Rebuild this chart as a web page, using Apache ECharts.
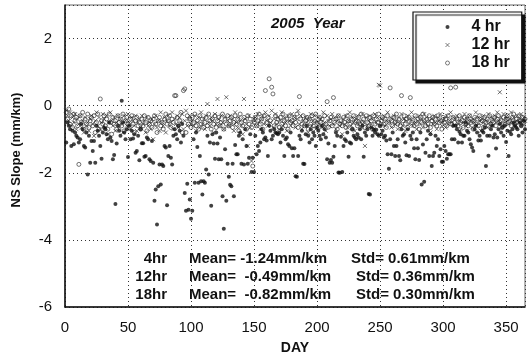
<!DOCTYPE html>
<html><head><meta charset="utf-8">
<script src="https://cdn.jsdelivr.net/npm/echarts@6/dist/echarts.min.js"></script>
<style>html,body{margin:0;padding:0;background:#fff}#c{width:530px;height:362px}</style>
</head><body><div id="c"></div>
<script>
// NS slope (mm/km) per day of 2005 (day 1..365)
const hr4 = [
-1.1,-0.5,-0.6,-0.7,-1.2,-0.75,-1.15,-0.8,-0.9,-0.95,
-1.1,-1.0,-0.55,-0.7,-1.2,-1.25,-0.8,-2.05,-0.9,-1.7,
-1.05,-1.35,-1.05,-1.7,-0.6,-0.75,-0.9,-1.2,-1.58,-0.8,
-0.65,-0.7,-0.85,-1.0,-0.5,-0.95,-1.05,-1.6,-1.47,-2.93,
-1.13,-0.6,-0.75,-0.9,0.15,-0.5,-0.8,-1.0,-0.7,-1.53,
-0.6,-1.0,-0.75,-0.98,-0.85,-1.4,-1.35,-0.9,-1.63,-0.7,
-1.12,-1.12,-1.52,-1.5,-0.95,-1.0,-1.6,-1.65,-1.05,-1.7,
-2.83,-2.5,-3.54,-2.4,-1.75,-2.35,-1.75,-1.8,-1.2,-1.25,
-2.97,-1.5,-1.2,-1.55,-1.75,-0.9,-0.7,-0.85,-1.0,-0.6,
-0.75,-1.1,-0.55,-0.9,-2.6,-3.13,-2.33,-3.1,-2.8,-3.37,
-3.13,-1.0,-2.3,-0.8,-1.23,-2.3,-1.5,-2.25,-2.65,-2.25,
-2.3,-1.9,-0.9,-2.05,-1.1,-2.98,-0.85,-1.13,-1.58,-0.8,
-1.13,-1.6,-0.95,-1.6,-2.7,-3.67,-1.3,-2.83,-1.73,-2.12,
-2.36,-2.4,-1.73,-2.7,-1.17,-1.45,-1.45,-0.9,-0.8,-1.73,
-1.0,-1.75,-0.7,-1.2,-1.73,-1.55,-0.85,-1.98,-1.55,-1.98,
-0.9,-1.45,-1.2,-1.35,-1.1,-0.7,-0.8,-1.0,-0.95,-1.04,
-1.5,-0.6,-0.75,-1.0,-0.9,-0.7,-0.8,-0.82,-0.85,-0.8,
-1.1,-0.7,-0.9,-1.5,-1.0,-0.95,-1.15,-1.2,-0.8,-1.27,
-1.5,-1.27,-2.1,-2.12,-1.5,-0.9,-1.0,-0.75,-1.73,-1.74,
-0.85,-0.6,-0.9,-1.1,-0.7,-1.0,-0.8,-0.9,-1.2,-0.65,
-0.75,-0.9,-1.0,-0.6,-0.85,-0.7,-0.95,-1.6,-1.13,-1.7,
-1.62,-1.7,-1.52,-1.2,-0.8,-0.9,-1.99,-2.0,-0.93,-1.98,
-1.2,-1.0,-1.05,-0.8,-1.52,-1.1,-1.13,-0.7,-0.9,-0.95,
-1.0,-0.85,-0.95,-0.7,-1.0,-0.6,-1.52,-0.8,-0.9,-0.7,
-2.63,-2.65,-0.65,-0.9,-0.72,-0.8,-0.72,-0.85,-0.9,-0.6,
-0.85,-0.75,-0.95,-0.9,-1.04,-1.45,-1.88,-1.0,-1.45,-0.8,
-1.2,-1.5,-1.2,-1.0,-1.5,-1.63,-0.7,-0.9,-0.85,-1.1,
-1.48,-0.7,-1.5,-0.9,-1.0,-0.8,-1.27,-1.6,-1.0,-1.27,
-1.62,-0.8,-2.35,-1.16,-2.27,-1.4,-1.0,-0.75,-1.5,-0.85,
-1.8,-1.5,-1.4,-0.9,-1.2,-1.0,-1.5,-1.3,-1.67,-1.67,
-1.2,-1.35,-1.58,-1.45,-1.45,-1.45,-1.0,-0.6,-1.0,-0.6,
-0.7,-1.1,-0.78,-0.85,-1.1,-0.9,-0.9,-0.5,-0.75,-0.8,
-1.0,-1.15,-1.25,-1.35,-0.7,-0.6,-0.8,-1.04,-0.9,-1.04,
-0.75,-0.8,-0.65,-1.8,-0.9,-1.49,-0.9,-0.7,-0.6,-0.95,
-0.85,-1.28,-0.95,-0.7,-0.55,-0.8,-0.65,-0.9,-0.6,-1.08,
-0.75,-1.5,-0.78,-0.85,-0.7,-0.5,-0.6,-0.65,-0.7,-0.9,
-0.5,-0.6,-0.8,-0.45,-0.7
];
const hr12 = [
-0.15,-0.3,-0.45,-0.2,-0.6,-0.35,-0.5,-0.25,-0.7,-0.4,
-0.55,-0.3,-0.65,-0.45,-0.8,-0.35,-0.6,-0.5,-0.75,-0.4,
-0.3,-0.55,-0.9,-0.45,-0.2,-0.6,-0.35,-0.7,-0.5,-0.25,
-0.4,-0.65,-0.3,-0.85,-0.5,-0.2,-0.45,-0.6,-0.35,-0.75,
-0.5,-0.3,-0.65,-0.4,-0.55,-0.8,-0.3,-0.45,-0.6,-0.25,
-0.5,-0.7,-0.35,-0.45,-0.6,-0.3,-0.75,-0.5,-0.4,-0.65,
-0.3,-0.55,-0.45,-0.8,-0.35,-0.6,-0.5,-0.7,-0.4,-1.0,
-0.55,-0.3,-0.65,-0.45,-0.75,-0.2,-0.5,-0.6,-0.35,-0.8,
-0.45,-0.3,-0.6,-0.5,-0.2,-0.7,-0.4,-0.55,-0.3,-0.65,
-0.35,-0.5,-0.25,-0.7,-0.45,-0.15,-0.6,-0.4,-0.3,-0.55,
-0.45,-0.6,-0.3,-0.75,-0.5,-0.35,-0.65,-0.2,-0.55,-0.4,
-0.7,-0.3,0.05,-0.5,-0.6,-0.35,-0.45,-0.8,-0.25,-0.55,
0.2,-0.4,-0.6,-0.3,-0.5,-0.7,-0.35,0.25,-0.45,-0.6,
-0.3,-0.55,-0.4,-0.75,-0.2,-0.5,-0.65,-0.35,-0.45,-0.6,
-0.85,0.2,-0.4,-0.55,-1.2,-0.3,-0.65,-1.65,-0.5,-0.4,
-0.35,-0.6,-0.25,-0.5,-0.7,-0.4,-0.3,-0.55,-0.2,-0.45,
-0.6,-0.3,-0.5,-0.15,-0.65,-0.4,-0.25,-0.55,-0.35,-0.7,
-0.45,-0.2,-0.6,-0.35,-0.5,-0.75,-0.3,-0.45,-0.6,-0.25,
-0.5,-0.35,-0.65,-0.4,-0.15,-0.55,-0.3,-0.7,-0.45,-0.6,
-0.35,-0.5,-0.8,-0.4,-0.25,-0.6,-0.45,-0.3,-0.7,-0.5,
-0.35,-0.55,-0.4,-0.65,-0.2,-0.5,-0.75,-0.3,-0.45,-0.6,
-0.4,-0.25,-0.55,-0.35,-0.7,-0.45,-0.3,-0.6,-0.5,-0.85,
-0.4,-0.55,-0.3,-0.65,-0.45,-0.2,-0.6,-0.35,-0.5,-0.75,
-0.4,-0.3,-0.55,-0.45,-0.65,-0.25,-0.5,-1.2,-0.35,-0.6,
-0.45,-0.3,-0.55,-0.4,-0.7,-0.25,-0.5,-0.35,0.62,0.6,
-0.4,-0.55,-0.3,-0.6,-0.45,-0.2,-0.5,-0.35,-0.65,-0.4,
-0.3,-0.55,-0.45,-0.7,-0.35,-0.5,-0.25,-0.6,-0.4,-0.75,
-0.45,-0.3,-0.55,-0.4,-0.2,-0.6,-0.35,-0.5,-0.7,-0.45,
-0.3,-0.55,-0.4,-0.65,-0.25,-0.5,-0.35,-0.6,-0.45,-0.8,
-0.4,-0.55,-0.3,-0.5,-0.7,-0.35,-0.45,-0.25,-0.6,-0.5,
-0.4,-0.65,-0.3,-0.55,-0.45,-0.2,-0.5,-0.35,-0.6,-0.4,
-0.3,-0.55,-0.45,-0.7,-0.35,-0.5,-0.25,-0.6,-0.4,-0.55,
-0.3,-0.45,-0.65,-0.4,-0.5,-0.2,-0.6,-0.35,-0.45,-0.75,
-0.4,-0.3,-0.55,-0.45,-0.65,-0.25,-0.5,-0.35,-0.6,-0.4,
-0.3,-0.5,-0.2,-0.45,0.4,-0.35,-0.6,-0.25,-0.5,-0.4,
-0.3,-0.55,-0.4,-0.2,-0.5,-0.35,-0.6,-0.45,-0.3,-0.5,
-0.4,-0.25,-0.55,-0.35,-0.45
];
const hr18 = [
-0.2,-0.4,-0.1,-0.55,-0.3,-0.65,-0.25,-0.45,-0.35,-0.6,
-1.75,-0.3,-0.5,-0.2,-0.7,-0.4,-0.55,-0.25,-0.65,-0.45,
-0.35,-0.6,-0.3,-0.8,-0.5,-0.25,-0.7,0.2,-0.45,-0.55,
-0.3,-0.6,-0.4,-0.7,-0.25,-0.5,-0.85,-0.35,-0.55,-0.45,
-0.7,-0.3,-0.5,-0.4,-0.6,-0.25,-0.75,-0.45,-0.35,-0.55,
-0.65,-0.4,-0.3,-0.55,-0.8,-0.45,-0.35,-0.6,-0.5,-0.7,
-0.4,-0.6,-0.3,-0.5,-0.75,-0.35,-0.55,-0.45,-0.65,-0.4,
-0.3,-0.55,-0.8,-0.45,-0.35,-0.6,-0.5,-0.7,-0.4,-0.25,
-0.55,-0.45,-0.3,-0.65,-0.4,-0.5,0.3,0.3,-0.35,-0.6,
-0.45,-0.2,-0.8,0.45,0.5,-0.8,-0.3,-0.55,-0.4,-0.65,
-0.35,-0.5,-0.25,-0.6,-0.45,-0.7,-0.3,-0.55,-0.4,-0.65,
-0.5,-0.35,-0.6,-0.25,-0.45,-0.7,-0.4,-0.55,-0.3,-0.65,
-0.45,-0.35,-0.6,-0.5,-0.25,-0.7,-0.4,-0.55,-0.3,-0.6,
-0.45,-0.35,-0.65,-0.5,-0.3,-0.55,-0.4,-0.75,-0.25,-0.5,
-0.6,-0.35,-0.45,-0.7,-0.3,-0.55,-0.4,-0.65,-1.8,-0.5,
-0.35,-0.6,-0.45,-0.25,-0.55,-0.4,-0.7,-0.3,0.45,-0.5,
-0.35,0.8,-0.45,0.55,0.35,-0.6,-0.3,-0.5,-0.4,-0.65,
-0.35,-0.55,-0.25,-0.45,-0.6,-0.4,-0.7,-0.3,-0.5,-0.45,
-0.6,-0.35,-0.5,-0.25,-0.65,0.27,-0.4,-0.55,-0.3,-0.6,
-0.45,-0.35,-0.7,-0.4,-0.55,-0.3,-0.6,-0.45,-0.25,-0.5,
-0.65,-0.35,-0.5,-0.4,-0.6,-0.3,-0.55,0.12,-0.64,-0.45,
-0.35,-0.6,0.24,-0.5,-0.4,-0.7,-0.3,-0.55,-0.45,-0.6,
-0.35,-0.5,-0.65,-0.3,-0.45,-0.55,-0.4,-0.7,-0.3,-0.5,
-0.45,-0.6,-0.35,-0.55,-0.25,-0.5,-0.4,-0.65,-0.3,-0.5,
-0.6,-0.35,-0.45,-0.7,-0.3,-0.55,-0.4,-0.5,-0.25,-0.6,
-0.45,-0.35,-0.55,-0.4,-0.65,-0.3,-0.5,0.53,-0.45,-0.6,
-0.35,-0.5,-0.25,-0.55,-0.4,-0.6,0.3,-0.45,-0.3,-0.55,
-0.4,-0.65,-0.35,0.24,-0.5,-0.45,-0.6,-0.3,-0.55,-0.4,
-0.7,-0.35,-0.5,-0.25,-0.45,-0.6,-0.4,-0.55,-0.3,-0.65,
-0.45,-0.35,-0.55,-0.4,-0.6,-0.3,-0.5,-0.45,-0.7,-0.35,
-0.5,-0.4,-0.6,-0.3,-0.45,0.53,-0.55,-0.35,-0.5,0.55,
-0.4,-0.6,-0.3,-0.5,-0.45,-0.65,-0.35,-0.55,-0.4,-0.6,
-0.3,-0.5,-0.45,-0.7,-0.35,-0.55,-0.4,-0.6,-0.3,-0.5,
-0.45,-0.65,-0.35,-0.5,-0.4,-0.6,-0.3,-0.55,-0.45,-0.5,
-0.35,-0.6,-0.4,-0.3,-0.5,-0.45,-0.65,-0.35,-0.55,-0.4,
-0.3,-0.5,-0.45,-0.6,-0.35,-0.25,-0.55,-0.4,-0.5,-0.3,
-0.45,-0.6,-0.35,-0.5,-0.4
];
const seriesNames = ['4 hr', '12 hr', '18 hr'];
const statLabels = ['4hr', '12hr', '18hr'];
const statMeans = ['Mean= -1.24mm/km', 'Mean=  -0.49mm/km', 'Mean=  -0.82mm/km'];
const statStds = ['Std= 0.61mm/km', 'Std= 0.36mm/km', 'Std= 0.30mm/km'];
const titleText = '2005  Year';
const xTicks = { min: 0, max: 365, interval: 50 };
const yTicks = { min: -6, max: 3, interval: 2 };

const FONT = '"Liberation Sans", Arial, sans-serif';
function pairs(arr) { return arr.map((v, i) => [i + 1, v]); }

const chart = echarts.init(document.getElementById('c'), null, { renderer: 'canvas' });
const statEls = [];
statLabels.forEach((s, i) => {
  const y = 259 + i * 18;
  statEls.push({ type: 'text', x: 167, y: y, style: { text: s, font: 'bold 15px ' + FONT, fill: '#111', textAlign: 'right', textVerticalAlign: 'middle' } });
  statEls.push({ type: 'text', x: 189, y: y, style: { text: statMeans[i], font: 'bold 15px ' + FONT, fill: '#111', textAlign: 'left', textVerticalAlign: 'middle' } });
  statEls.push({ type: 'text', x: i === 0 ? 351 : 356, y: y, style: { text: statStds[i], font: 'bold 15px ' + FONT, fill: '#111', textAlign: 'left', textVerticalAlign: 'middle' } });
});
statEls.push({ type: 'text', x: 271, y: 24, style: { text: titleText, font: 'italic bold 15px ' + FONT, fill: '#111', textAlign: 'left', textVerticalAlign: 'middle' } });

chart.setOption({
  animation: false,
  backgroundColor: '#fff',
  grid: { left: 65, right: 5, top: 5, bottom: 55, show: true, borderColor: '#666', borderWidth: 1 },
  xAxis: {
    type: 'value', min: xTicks.min, max: xTicks.max, interval: xTicks.interval,
    name: 'DAY', nameLocation: 'middle', nameGap: 34,
    nameTextStyle: { fontFamily: FONT, fontWeight: 'bold', fontSize: 14, color: '#111' },
    axisLine: { show: true, onZero: false, lineStyle: { color: '#111', width: 1.5 } },
    axisTick: { show: false },
    axisLabel: { fontFamily: FONT, fontSize: 15, color: '#111', margin: 13, showMaxLabel: false },
    splitLine: { show: true, lineStyle: { color: '#333', type: [1, 3], width: 1 } }
  },
  yAxis: {
    type: 'value', min: yTicks.min, max: yTicks.max, interval: yTicks.interval,
    name: 'NS Slope (mm/km)', nameLocation: 'middle', nameGap: 42, nameRotate: 90,
    nameTextStyle: { fontFamily: FONT, fontWeight: 'bold', fontSize: 13, color: '#111', padding: [0, 0, 0, 12] },
    axisLine: { show: true, onZero: false, lineStyle: { color: '#111', width: 1.5 } },
    axisTick: { show: false },
    axisLabel: { fontFamily: FONT, fontSize: 15, color: '#111', margin: 13, showMaxLabel: false },
    splitLine: { show: true, lineStyle: { color: '#333', type: [1, 3], width: 1 } }
  },
  legend: {
    orient: 'vertical', left: 413, top: 12,
    padding: [6, 12, 8, 30], itemGap: 0, itemWidth: 4, itemHeight: 4,
    backgroundColor: '#fff', borderColor: '#111', borderWidth: 1.2,
    shadowColor: '#111', shadowBlur: 1, shadowOffsetX: 3, shadowOffsetY: 3,
    textStyle: { fontFamily: FONT, fontWeight: 'bold', fontSize: 16, color: '#111', lineHeight: 18, padding: [0, 0, 0, 17] },
    data: [
      { name: seriesNames[0], icon: 'circle', itemStyle: { color: '#111' } },
      { name: seriesNames[1], icon: 'path://M0,0L4,4M4,0L0,4', itemStyle: { color: 'none', borderColor: '#333', borderWidth: 0.8 } },
      { name: seriesNames[2], icon: 'circle', itemStyle: { color: 'none', borderColor: '#333', borderWidth: 0.8 } }
    ]
  },
  graphic: statEls,
  series: [
    { name: seriesNames[1], type: 'scatter', data: pairs(hr12), symbol: 'path://M0,0L4,4M4,0L0,4', symbolSize: 4,
      itemStyle: { color: 'none', borderColor: '#222', borderWidth: 0.8 } },
    { name: seriesNames[2], type: 'scatter', data: pairs(hr18), symbol: 'circle', symbolSize: 4,
      itemStyle: { color: 'none', borderColor: '#222', borderWidth: 0.8 } },
    { name: seriesNames[0], type: 'scatter', data: pairs(hr4), symbol: 'circle', symbolSize: 4,
      itemStyle: { color: '#111' } }
  ]
});
</script></body></html>
